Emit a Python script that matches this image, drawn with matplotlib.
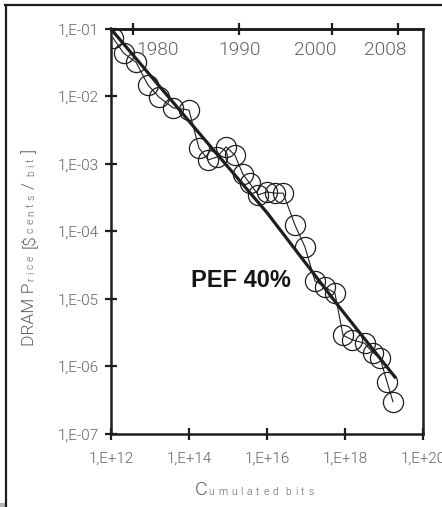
import numpy as np
import matplotlib
matplotlib.use("Agg")
import matplotlib.pyplot as plt
from matplotlib.ticker import FixedLocator, NullLocator, FuncFormatter
from matplotlib.transforms import IdentityTransform
from matplotlib.lines import Line2D
from matplotlib.patches import Rectangle

# cumulated bits shipped vs DRAM price per bit
bits = [1.12e12, 2.1e12, 4.4e12, 8.9e12, 1.7e13, 3.9e13, 1.0e14, 1.8e14,
        3.1e14, 5.2e14, 8.9e14, 1.5e15, 2.4e15, 3.6e15, 5.9e15, 1.0e16,
        1.6e16, 2.6e16, 5.2e16, 9.4e16, 1.7e17, 3.1e17, 5.5e17, 8.9e17,
        1.5e18, 3.2e18, 5.2e18, 7.9e18, 1.2e19, 1.7e19]
price = [7.4e-2, 4.4e-2, 3.2e-2, 1.48e-2, 9.8e-3, 6.8e-3, 6.3e-3, 1.73e-3,
         1.15e-3, 1.27e-3, 1.79e-3, 1.36e-3, 7.1e-4, 5.2e-4, 3.5e-4, 3.85e-4,
         3.7e-4, 3.7e-4, 1.25e-4, 5.9e-5, 1.85e-5, 1.5e-5, 1.23e-5, 2.9e-6,
         2.5e-6, 2.2e-6, 1.6e-6, 1.34e-6, 5.9e-7, 3.0e-7]

# experience curve (PEF 40%)
fit_bits = [1.0e12, 1.58e14, 1.0e16, 7.4e17, 1.9e19]
fit_price = [1.0e-1, 3.16e-3, 1.9e-4, 7.4e-6, 7.0e-7]

# calendar years on the top axis
years = ["1980", "1990", "2000", "2008"]
year_tick_bits = [3.6e12, 1.9e15, 4.7e17, 2.3e19]
year_label_bits = [1.6e13, 2.0e15, 1.7e17, 1.1e19]

x_ticks = [1e12, 1e14, 1e16, 1e18, 1e20]
y_ticks = [1e-7, 1e-6, 1e-5, 1e-4, 1e-3, 1e-2, 1e-1]

INK = "#1e1e1e"
GREY = "#606060"
FONT = ["Roboto", "DejaVu Sans"]
WEIGHT = 300

fig = plt.figure(figsize=(4.42, 5.07), dpi=100)
ax = fig.add_axes([0.2511, 0.144, 0.7059, 0.7988])
ax.set_xscale("log")
ax.set_yscale("log")
ax.set_xlim(1e12, 1e20)
ax.set_ylim(1e-7, 1e-1)

ax.plot(bits, price, color=INK, lw=0.8, marker="o", ms=14.5,
        mfc="none", mec=INK, mew=0.9, zorder=3)
ax.plot(fit_bits, fit_price, color=INK, lw=2.3, zorder=4, clip_on=False)

sci = FuncFormatter(lambda v, p: "1,E{:+03d}".format(int(round(np.log10(v)))))
ax.xaxis.set_major_locator(FixedLocator(x_ticks))
ax.yaxis.set_major_locator(FixedLocator(y_ticks))
ax.xaxis.set_minor_locator(NullLocator())
ax.yaxis.set_minor_locator(NullLocator())
ax.xaxis.set_major_formatter(sci)
ax.yaxis.set_major_formatter(sci)
ax.tick_params(direction="inout", length=8, width=1.6, colors=INK,
               labelcolor=GREY, labelsize=11)
ax.tick_params(axis="x", pad=9)
ax.tick_params(axis="y", pad=4.5)
for lab in ax.get_xticklabels() + ax.get_yticklabels():
    lab.set_family(FONT)
    lab.set_fontweight(WEIGHT)
for sp in ax.spines.values():
    sp.set_linewidth(1.8)
    sp.set_color(INK)

top = ax.secondary_xaxis("top")
top.xaxis.set_major_locator(FixedLocator(year_tick_bits))
top.xaxis.set_minor_locator(NullLocator())
top.set_xticklabels([])
top.tick_params(direction="inout", length=8, width=1.6, colors=INK)
top.spines["top"].set_linewidth(1.8)

for yr, xb in zip(years, year_label_bits):
    ax.text(xb, 0.948, yr, transform=ax.get_xaxis_transform(), ha="center",
            va="center", fontsize=13.8, color=GREY, family=FONT,
            fontweight=WEIGHT)

ax.text(0.417, 0.38, "PEF 40%", transform=ax.transAxes, ha="center",
        va="center", fontsize=17, fontweight="bold", family="Liberation Sans",
        color="#151515")


def spaced_label(x0, y0, pieces, vertical=False):
    """Mixed-size label: (text, size, tracking per char, gap after)."""
    r = fig.canvas.get_renderer()
    items = []
    pos = 0.0
    for txt, size, track, gap in pieces:
        chunks = list(txt) if track else [txt]
        for ch in chunks:
            t = fig.text(0, 0, ch, fontsize=size, color=GREY, family=FONT,
                         fontweight=WEIGHT, transform=IdentityTransform(),
                         ha="left", va="baseline", rotation_mode="anchor")
            w = t.get_window_extent(r).width
            items.append((t, pos))
            pos += w + track
        pos += gap - (track if track else 0)
    for t, off in items:
        if vertical:
            t.set_rotation(90)
            t.set_position((x0, y0 - pos / 2 + off))
        else:
            t.set_position((x0 - pos / 2 + off, y0))


spaced_label(254, 12, [("C", 14, 0, 1.5), ("umulated", 7.5, 3.9, 7),
                       ("bits", 7.5, 3.9, 0)])
spaced_label(34, 259, [("DRAM P", 12.5, 0, 1.5), ("rice", 7.5, 3.0, 7),
                       ("[\\$", 12.5, 0, 1.5), ("cents", 7.5, 3.4, 6),
                       ("/", 12.5, 0, 6), ("bit", 7.5, 3.0, 4),
                       ("]", 12.5, 0, 0)], vertical=True)

# page frame
fig.add_artist(Line2D([0.0136, 0.0136], [0.0, 0.990], transform=fig.transFigure,
                      color=INK, lw=1.6))
fig.add_artist(Line2D([0.0113, 1.0], [0.990, 0.990], transform=fig.transFigure,
                      color=INK, lw=1.6))
fig.add_artist(Rectangle((0, 0), 0.011, 0.008, transform=fig.transFigure,
                         color="#b4b4b4", lw=0))

fig.savefig("out.png", dpi=100)
